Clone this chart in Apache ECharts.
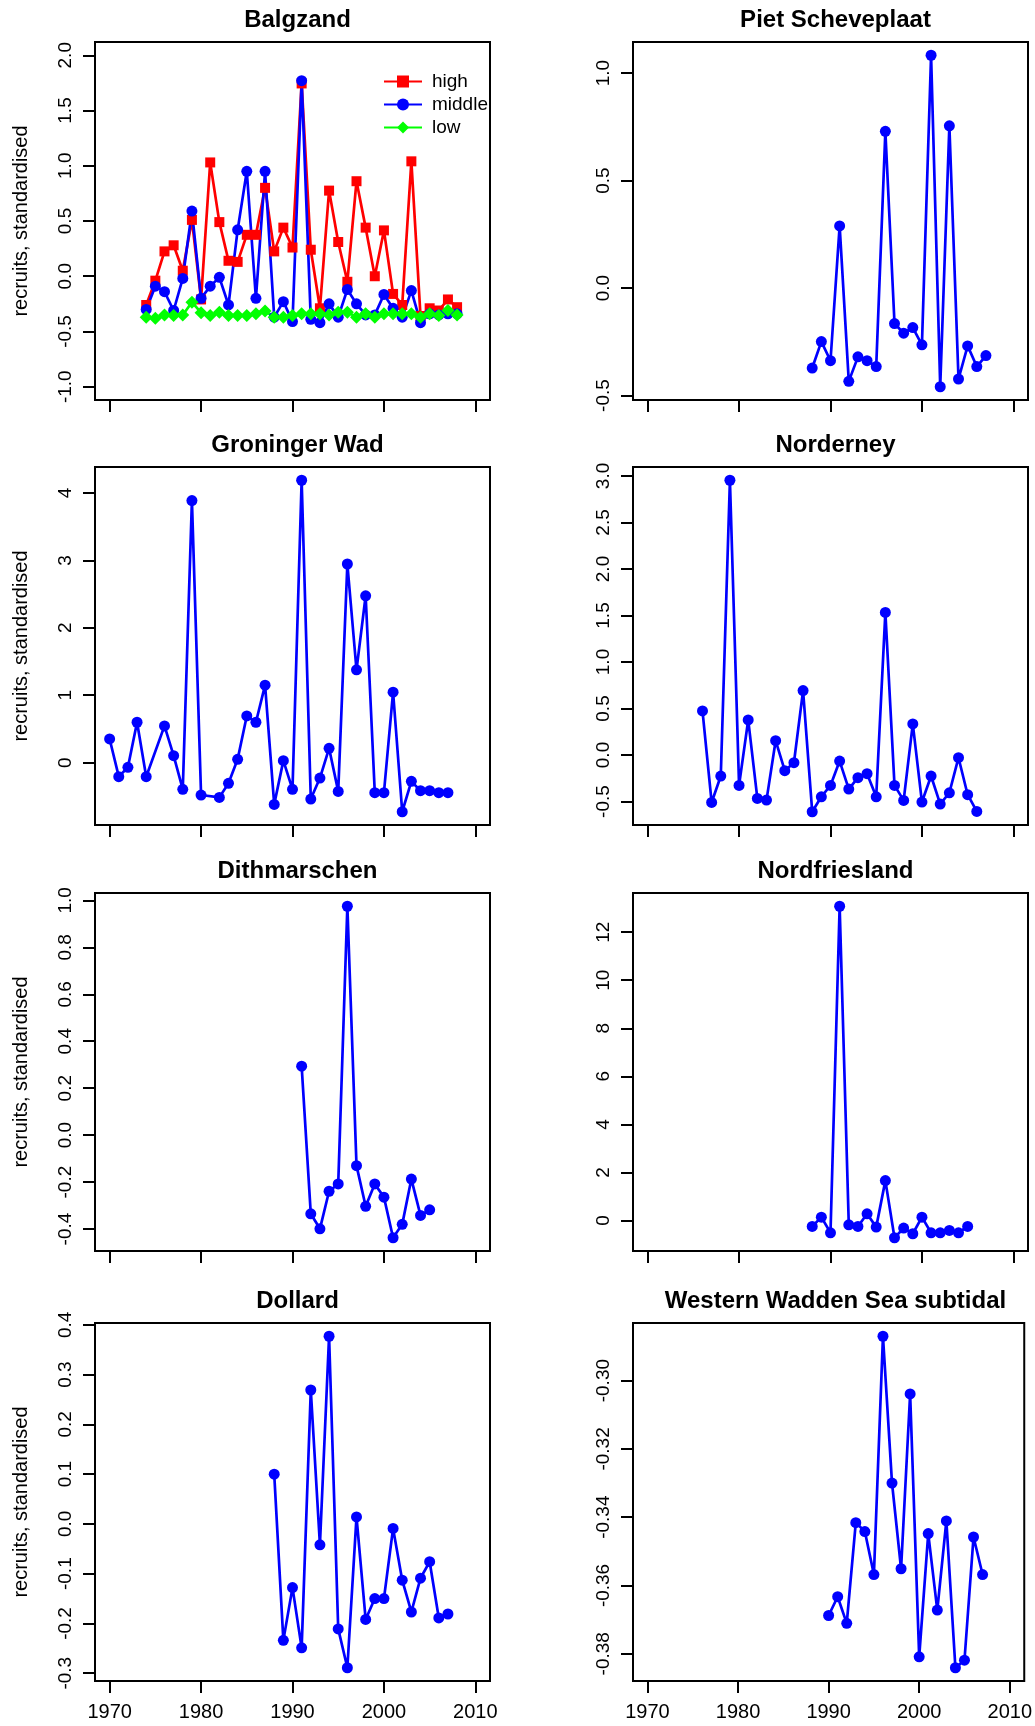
<!DOCTYPE html>
<html>
<head>
<meta charset="utf-8">
<script src="https://cdn.jsdelivr.net/npm/echarts@6/dist/echarts.min.js"></script>
<style>
html,body{margin:0;padding:0;background:#fff;}
#chart{width:1035px;height:1726px;}
</style>
</head>
<body>
<div id="chart"></div>
<script>
// ---------------- DATA ----------------
const xTicks = [1970, 1980, 1990, 2000, 2010];
const xLimits = [1970, 2010];

const balgzandYears = [1974,1975,1976,1977,1978,1979,1980,1981,1982,1983,1984,1985,1986,1987,1988,1989,1990,1991,1992,1993,1994,1995,1996,1997,1998,1999,2000,2001,2002,2003,2004,2005,2006,2007,2008];
const balgzandHigh = [-0.26,-0.04,0.225,0.28,0.05,0.51,-0.21,1.03,0.49,0.14,0.13,0.375,0.375,0.80,0.225,0.44,0.26,1.745,0.24,-0.29,0.775,0.31,-0.05,0.86,0.44,0.0,0.415,-0.16,-0.26,1.04,-0.36,-0.29,-0.31,-0.21,-0.28];
const balgzandMiddle = [-0.30,-0.09,-0.14,-0.31,-0.02,0.59,-0.20,-0.09,-0.01,-0.26,0.42,0.95,-0.20,0.95,-0.37,-0.23,-0.41,1.77,-0.39,-0.42,-0.25,-0.37,-0.12,-0.25,-0.35,-0.35,-0.165,-0.29,-0.37,-0.13,-0.42,-0.34,-0.35,-0.34,-0.34];
const balgzandLow = [-0.37,-0.38,-0.35,-0.355,-0.35,-0.235,-0.33,-0.355,-0.325,-0.355,-0.355,-0.355,-0.34,-0.315,-0.37,-0.37,-0.355,-0.34,-0.34,-0.34,-0.35,-0.325,-0.325,-0.37,-0.34,-0.37,-0.34,-0.34,-0.34,-0.34,-0.37,-0.34,-0.355,-0.31,-0.35];
const balgzandYLimits = [-1, 2];
const balgzandTicks = [-1.0,-0.5,0.0,0.5,1.0,1.5,2.0];

const pietYears = [1988,1989,1990,1991,1992,1993,1994,1995,1996,1997,1998,1999,2000,2001,2002,2003,2004,2005,2006,2007];
const pietValues = [-0.372,-0.249,-0.338,0.289,-0.434,-0.320,-0.338,-0.365,0.729,-0.165,-0.210,-0.184,-0.264,1.083,-0.459,0.755,-0.423,-0.269,-0.365,-0.314];
const pietTicks = [-0.5,0.0,0.5,1.0];

const groningerYears = [1970,1971,1972,1973,1974,1976,1977,1978,1979,1980,1982,1983,1984,1985,1986,1987,1988,1989,1990,1991,1992,1993,1994,1995,1996,1997,1998,1999,2000,2001,2002,2003,2004,2005,2006,2007];
const groningerValues = [0.351,-0.208,-0.069,0.599,-0.208,0.545,0.104,-0.396,3.886,-0.48,-0.515,-0.307,0.05,0.693,0.599,1.149,-0.619,0.03,-0.396,4.188,-0.54,-0.228,0.213,-0.426,2.946,1.376,2.475,-0.446,-0.446,1.045,-0.728,-0.277,-0.416,-0.416,-0.446,-0.446];
const groningerTicks = [0,1,2,3,4];

const norderneyYears = [1976,1977,1978,1979,1980,1981,1982,1983,1984,1985,1986,1987,1988,1989,1990,1991,1992,1993,1994,1995,1996,1997,1998,1999,2000,2001,2002,2003,2004,2005,2006];
const norderneyValues = [0.474,-0.51,-0.226,2.954,-0.327,0.377,-0.467,-0.485,0.154,-0.169,-0.083,0.693,-0.61,-0.449,-0.327,-0.065,-0.366,-0.244,-0.201,-0.449,1.533,-0.327,-0.488,0.334,-0.506,-0.226,-0.528,-0.406,-0.029,-0.427,-0.607];
const norderneyTicks = [-0.5,0.0,0.5,1.0,1.5,2.0,2.5,3.0];

const dithmarschenYears = [1991,1992,1993,1994,1995,1996,1997,1998,1999,2000,2001,2002,2003,2004,2005];
const dithmarschenValues = [0.294,-0.335,-0.399,-0.239,-0.208,0.975,-0.130,-0.303,-0.208,-0.264,-0.437,-0.380,-0.187,-0.342,-0.318];
const dithmarschenTicks = [-0.4,-0.2,0.0,0.2,0.4,0.6,0.8,1.0];

const nordfrieslandYears = [1988,1989,1990,1991,1992,1993,1994,1995,1996,1997,1998,1999,2000,2001,2002,2003,2004,2005];
const nordfrieslandValues = [-0.249,0.138,-0.512,13.08,-0.18,-0.249,0.277,-0.277,1.659,-0.719,-0.318,-0.553,0.138,-0.512,-0.512,-0.415,-0.512,-0.249];
const nordfrieslandTicks = [0,2,4,6,8,10,12];

const dollardYears = [1988,1989,1990,1991,1992,1993,1994,1995,1996,1997,1998,1999,2000,2001,2002,2003,2004,2005,2006,2007];
const dollardValues = [0.100,-0.234,-0.128,-0.249,0.269,-0.042,0.377,-0.211,-0.289,0.014,-0.192,-0.150,-0.150,-0.009,-0.113,-0.177,-0.109,-0.076,-0.189,-0.181];
const dollardTicks = [-0.3,-0.2,-0.1,0.0,0.1,0.2,0.3,0.4];

const wwsYears = [1990,1991,1992,1993,1994,1995,1996,1997,1998,1999,2000,2001,2002,2003,2004,2005,2006,2007];
const wwsValues = [-0.3688,-0.3633,-0.3711,-0.3416,-0.3442,-0.3568,-0.2870,-0.3300,-0.3551,-0.3039,-0.3809,-0.3448,-0.3672,-0.3411,-0.3841,-0.3819,-0.3458,-0.3568];
const wwsTicks = [-0.38,-0.36,-0.34,-0.32,-0.30];

// ---------------- LAYOUT / STYLE ----------------
const FONT = "'Liberation Sans', Arial, Helvetica, sans-serif";
const colLeft = [95, 633];
const rowTop = [42, 467, 893, 1323];
const boxW = 395, boxH = 358;

function expand(lo, hi) { const d = (hi - lo) * 0.04; return [lo - d, hi + d]; }
function rangeOf(arrs) {
  let lo = Infinity, hi = -Infinity;
  arrs.forEach(a => a.forEach(v => { if (v < lo) lo = v; if (v > hi) hi = v; }));
  return [lo, hi];
}

const BLUE = '#0000ff', RED = '#ff0000', GREEN = '#00ff00';

const panels = [
  { title: 'Balgzand', row: 0, col: 0, dec: 1, ticks: balgzandTicks, ylim: balgzandYLimits,
    lines: [
      { name: 'high', years: balgzandYears, vals: balgzandHigh, color: RED, symbol: 'rect', size: 10 },
      { name: 'middle', years: balgzandYears, vals: balgzandMiddle, color: BLUE, symbol: 'circle', size: 11 },
      { name: 'low', years: balgzandYears, vals: balgzandLow, color: GREEN, symbol: 'diamond', size: 13 }
    ] },
  { title: 'Piet Scheveplaat', row: 0, col: 1, dec: 1, ticks: pietTicks,
    lines: [{ name: 'Piet Scheveplaat', years: pietYears, vals: pietValues, color: BLUE, symbol: 'circle', size: 11 }] },
  { title: 'Groninger Wad', row: 1, col: 0, dec: 0, ticks: groningerTicks,
    lines: [{ name: 'Groninger Wad', years: groningerYears, vals: groningerValues, color: BLUE, symbol: 'circle', size: 11 }] },
  { title: 'Norderney', row: 1, col: 1, dec: 1, ticks: norderneyTicks,
    lines: [{ name: 'Norderney', years: norderneyYears, vals: norderneyValues, color: BLUE, symbol: 'circle', size: 11 }] },
  { title: 'Dithmarschen', row: 2, col: 0, dec: 1, ticks: dithmarschenTicks,
    lines: [{ name: 'Dithmarschen', years: dithmarschenYears, vals: dithmarschenValues, color: BLUE, symbol: 'circle', size: 11 }] },
  { title: 'Nordfriesland', row: 2, col: 1, dec: 0, ticks: nordfrieslandTicks,
    lines: [{ name: 'Nordfriesland', years: nordfrieslandYears, vals: nordfrieslandValues, color: BLUE, symbol: 'circle', size: 11 }] },
  { title: 'Dollard', row: 3, col: 0, dec: 1, ticks: dollardTicks,
    lines: [{ name: 'Dollard', years: dollardYears, vals: dollardValues, color: BLUE, symbol: 'circle', size: 11 }] },
  { title: 'Western Wadden Sea subtidal', row: 3, col: 1, dec: 2, ticks: wwsTicks,
    lines: [{ name: 'Western Wadden Sea subtidal', years: wwsYears, vals: wwsValues, color: BLUE, symbol: 'circle', size: 11 }] }
];

const xr = expand(xLimits[0], xLimits[1]);
const grids = [], xAxes = [], yAxes = [], series = [], titles = [];

panels.forEach((p, i) => {
  const left = colLeft[p.col], top = rowTop[p.row];
  grids.push({ left: left, top: top, width: boxW, height: boxH, show: true,
    borderColor: '#000', borderWidth: 2, backgroundColor: 'transparent' });

  titles.push({ text: p.title, left: left + boxW / 2, top: top - 39, textAlign: 'center',
    textStyle: { fontSize: 24, fontWeight: 'bold', color: '#000', fontFamily: FONT } });

  xAxes.push({
    gridIndex: i, type: 'value', min: xr[0], max: xr[1],
    axisLine: { show: false, onZero: false },
    axisTick: { show: true, inside: false, length: 12, customValues: xTicks, lineStyle: { color: '#000', width: 2 } },
    axisLabel: { show: p.row === 3, customValues: xTicks, margin: 21, fontSize: 20, color: '#000', fontFamily: FONT,
      formatter: v => String(Math.round(v)) },
    splitLine: { show: false }
  });

  const yr = p.ylim ? expand(p.ylim[0], p.ylim[1]) : expand(...rangeOf(p.lines.map(l => l.vals)));
  const dec = p.dec;
  yAxes.push({
    gridIndex: i, type: 'value', min: yr[0], max: yr[1],
    axisLine: { show: false, onZero: false },
    axisTick: { show: true, inside: false, length: 12, customValues: p.ticks, lineStyle: { color: '#000', width: 2 } },
    axisLabel: { show: true, customValues: p.ticks, rotate: 90, margin: 20, fontSize: 19, color: '#000', fontFamily: FONT,
      formatter: v => Number(v).toFixed(dec) },
    splitLine: { show: false },
    name: p.col === 0 ? 'recruits, standardised' : '',
    nameLocation: 'middle', nameRotate: 90, nameGap: 64,
    nameTextStyle: { fontSize: 20, color: '#000', fontFamily: FONT }
  });

  p.lines.forEach(l => {
    series.push({
      type: 'line', name: l.name, xAxisIndex: i, yAxisIndex: i,
      data: l.years.map((y, k) => [y, l.vals[k]]),
      symbol: l.symbol, symbolSize: l.size, showSymbol: true,
      lineStyle: { color: l.color, width: 2.7 },
      itemStyle: { color: l.color },
      emphasis: { disabled: true },
      animation: false
    });
  });
});

const chart = echarts.init(document.getElementById('chart'), null, { renderer: 'canvas' });
chart.setOption({
  backgroundColor: '#fff',
  animation: false,
  title: titles,
  grid: grids,
  xAxis: xAxes,
  yAxis: yAxes,
  legend: {
    data: ['high', 'middle', 'low'], orient: 'vertical', left: 378, top: 67,
    itemWidth: 38, itemHeight: 15, itemGap: 4, selectedMode: false,
    textStyle: { fontSize: 19, color: '#000', fontFamily: FONT, padding: [0, 0, 0, 5] }
  },
  series: series
});
</script>
</body>
</html>
